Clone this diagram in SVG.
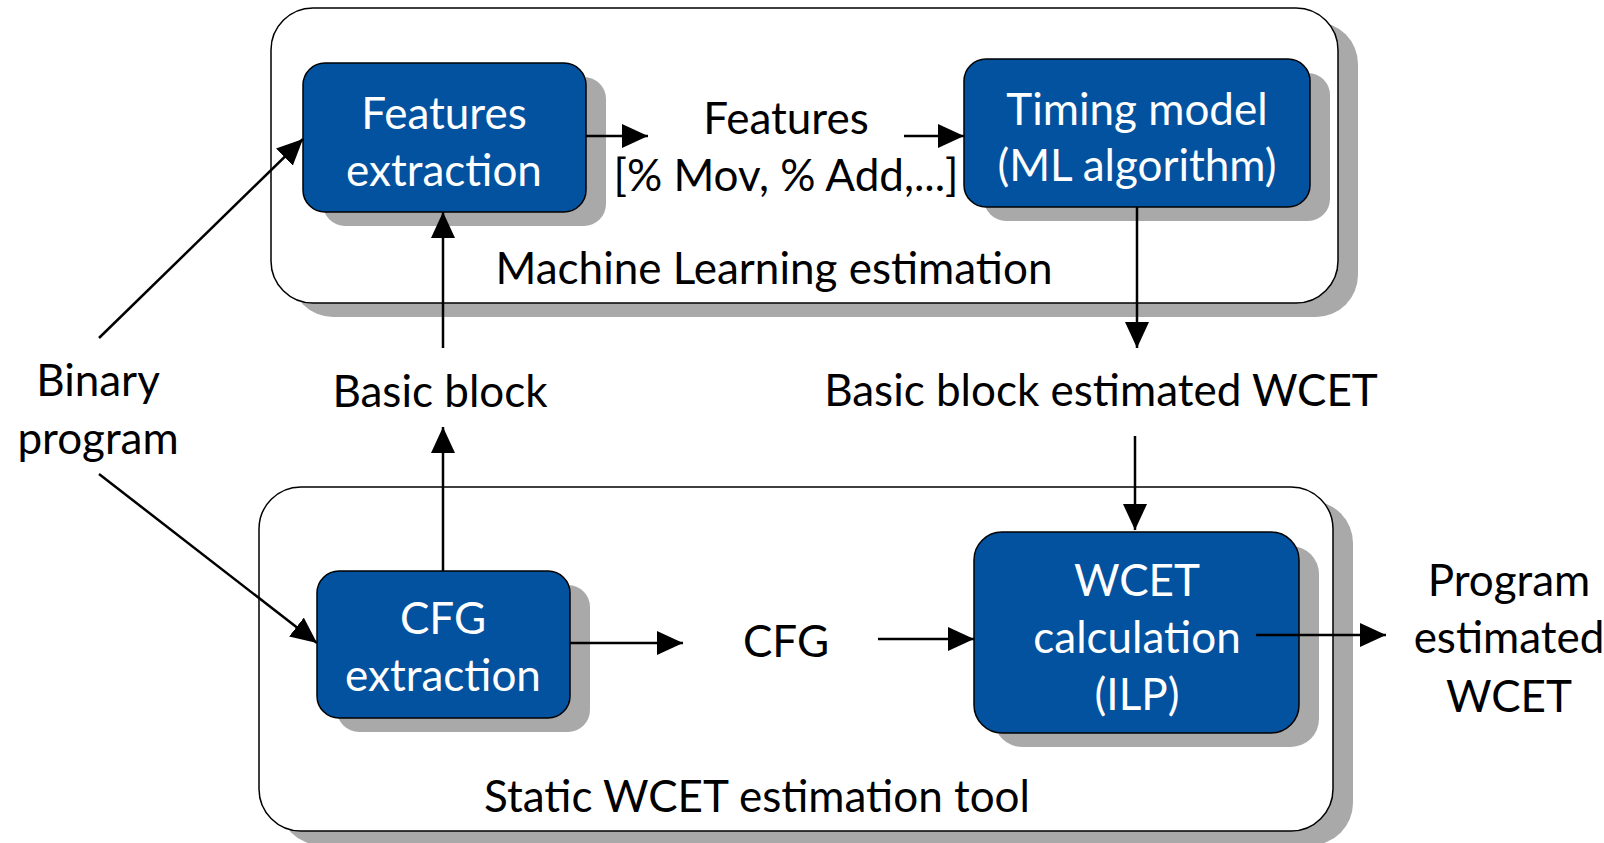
<svg xmlns="http://www.w3.org/2000/svg" width="1604" height="843" viewBox="0 0 1604 843">
<defs>
<marker id="ah" viewBox="0 0 26 24" refX="26" refY="12" markerWidth="26" markerHeight="24" markerUnits="userSpaceOnUse" orient="auto">
<path d="M0,0 L26,12 L0,24 Z" fill="#000"/>
</marker>
</defs>
<style>
.shadow{fill:#a9a9a9;}
.outer{fill:#fff;stroke:#000;stroke-width:1.5;}
.node{fill:#0352a0;stroke:#000;stroke-width:1.5;}
text{font-family:Lato,"Open Sans","Liberation Sans",sans-serif;font-size:44px;text-anchor:middle;}
.w{fill:#fff;}
.k{fill:#000;}
.edge{stroke:#000;stroke-width:2.5;fill:none;marker-end:url(#ah);}
</style>
<rect width="1604" height="843" fill="#fff"/>
<g id="ml-group">
<rect class="shadow" x="291" y="22" width="1067" height="295" rx="42"/>
<rect class="outer" x="271" y="8" width="1067" height="295" rx="42"/>
<text class="k" x="774" y="284">Machine Learning estimation</text>
</g>
<g id="static-group">
<rect class="shadow" x="279" y="501" width="1074" height="344" rx="42"/>
<rect class="outer" x="259" y="487" width="1074" height="344" rx="42"/>
<text class="k" x="757" y="812">Static WCET estimation tool</text>
</g>
<g id="features-extraction">
<rect class="shadow" x="323" y="77" width="283" height="149" rx="22"/>
<rect class="node" x="303" y="63" width="283" height="149" rx="22"/>
<text class="w" x="444" y="129">Features</text>
<text class="w" x="444" y="186">extraction</text>
</g>
<g id="timing-model">
<rect class="shadow" x="984" y="73" width="346" height="148" rx="22"/>
<rect class="node" x="964" y="59" width="346" height="148" rx="22"/>
<text class="w" x="1137" y="125">Timing model</text>
<text class="w" x="1137" y="181">(ML algorithm)</text>
</g>
<g id="cfg-extraction">
<rect class="shadow" x="337" y="585" width="253" height="147" rx="22"/>
<rect class="node" x="317" y="571" width="253" height="147" rx="22"/>
<text class="w" x="443" y="634">CFG</text>
<text class="w" x="443" y="691">extraction</text>
</g>
<g id="wcet-calculation">
<rect class="shadow" x="994" y="546" width="325" height="201" rx="28"/>
<rect class="node" x="974" y="532" width="325" height="201" rx="28"/>
<text class="w" x="1137" y="596">WCET</text>
<text class="w" x="1137" y="653">calculation</text>
<text class="w" x="1137" y="710">(ILP)</text>
</g>
<g id="features-data">
<text class="k" x="786" y="134">Features</text>
<text class="k" x="786" y="191">[% Mov, % Add,...]</text>
</g>
<g id="binary-program">
<text class="k" x="98" y="396">Binary</text>
<text class="k" x="98" y="454">program</text>
</g>
<g id="basic-block">
<text class="k" x="440" y="407">Basic block</text>
</g>
<g id="bb-wcet">
<text class="k" x="1101" y="406">Basic block estimated WCET</text>
</g>
<g id="cfg-data">
<text class="k" x="786" y="657">CFG</text>
</g>
<g id="program-wcet">
<text class="k" x="1509" y="596">Program</text>
<text class="k" x="1509" y="653">estimated</text>
<text class="k" x="1509" y="712">WCET</text>
</g>
<g id="connectors">
<line class="edge" x1="99" y1="338" x2="303" y2="139"/>
<line class="edge" x1="99" y1="474" x2="317" y2="643"/>
<line class="edge" x1="586" y1="136" x2="648" y2="136"/>
<line class="edge" x1="904" y1="136" x2="964" y2="136"/>
<line class="edge" x1="1137" y1="207" x2="1137" y2="348"/>
<line class="edge" x1="1135" y1="436" x2="1135" y2="530"/>
<line class="edge" x1="443" y1="571" x2="443" y2="427"/>
<line class="edge" x1="443" y1="348" x2="443" y2="212"/>
<line class="edge" x1="570" y1="643" x2="683" y2="643"/>
<line class="edge" x1="878" y1="639" x2="974" y2="639"/>
<line class="edge" x1="1256" y1="635" x2="1386" y2="635"/>
</g>
</svg>
